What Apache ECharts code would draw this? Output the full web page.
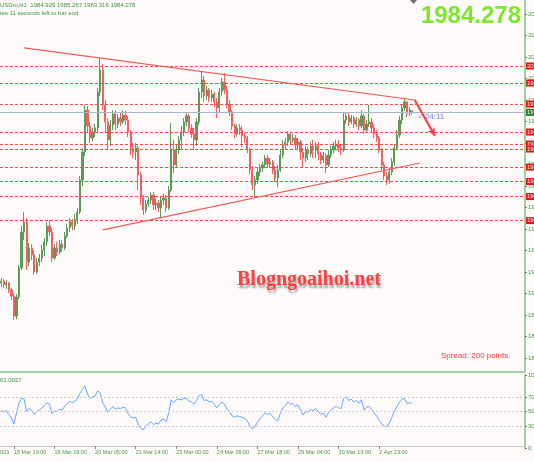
<!DOCTYPE html>
<html><head><meta charset="utf-8">
<script src="https://cdn.jsdelivr.net/npm/echarts@6/dist/echarts.min.js"></script>
<style>html,body{margin:0;padding:0;background:#fefafa;}#c{width:534px;height:462px;}</style>
</head><body><div id="c"></div>
<script>
// ---- data (2-hour candles) ----
const opens = [
1904.9,1905.8,1904.0,1904.9,1901.6,1898.8,1889.5,1898.4,1911.9,1928.6,
1933.3,1914.6,1921.2,1917.9,1910.0,1914.6,1916.5,1920.2,1924.0,1931.4,
1928.6,1916.5,1921.2,1919.3,1923.0,1921.2,1926.7,1930.5,1933.3,1931.4,
1934.2,1937.9,1952.8,1965.8,1985.3,1977.9,1972.3,1975.1,1977.0,1993.7,
2003.9,1987.7,1979.8,1971.4,1978.4,1983.5,1978.8,1981.6,1979.8,1983.0,
1980.7,1975.1,1967.7,1965.8,1967.7,1955.1,1944.4,1938.8,1941.6,1943.5,
1945.8,1941.2,1942.1,1939.8,1943.5,1944.4,1939.8,1948.1,1966.7,1959.8,
1966.7,1971.4,1975.1,1979.8,1982.6,1977.0,1974.2,1971.4,1979.8,1993.7,
1999.3,1991.9,1994.6,1990.9,1992.8,1989.1,1986.3,1993.7,1998.4,1994.6,
1988.1,1984.4,1977.9,1974.2,1977.0,1976.0,1973.3,1972.3,1966.7,1957.4,
1950.5,1952.8,1956.5,1958.4,1959.8,1963.0,1960.2,1961.2,1957.4,1953.7,
1957.4,1964.4,1969.1,1970.5,1974.2,1971.4,1972.3,1969.1,1970.5,1965.8,
1963.0,1966.7,1964.9,1968.6,1966.7,1968.6,1964.9,1962.1,1964.0,1959.8,
1964.4,1966.7,1968.6,1969.5,1967.7,1966.7,1980.7,1982.6,1979.8,1981.6,
1978.8,1980.7,1977.9,1982.6,1976.0,1978.8,1979.8,1977.0,1974.2,1972.3,
1966.7,1959.8,1954.7,1952.8,1956.5,1961.2,1967.7,1973.7,1980.7,1986.3,
1989.1,1983.9,1984.929];
const closes = [
1905.8,1904.0,1904.9,1901.6,1898.8,1889.5,1898.4,1911.9,1928.6,1933.3,
1914.6,1921.2,1917.9,1910.0,1914.6,1916.5,1920.2,1924.0,1931.4,1928.6,
1916.5,1921.2,1919.3,1923.0,1921.2,1926.7,1930.5,1933.3,1931.4,1934.2,
1937.9,1952.8,1965.8,1985.3,1977.9,1972.3,1975.1,1977.0,1993.7,2003.9,
1987.7,1979.8,1971.4,1978.4,1983.5,1978.8,1981.6,1979.8,1983.0,1980.7,
1975.1,1967.7,1965.8,1967.7,1955.1,1944.4,1938.8,1941.6,1943.5,1945.8,
1941.2,1942.1,1939.8,1943.5,1944.4,1939.8,1948.1,1966.7,1959.8,1966.7,
1971.4,1975.1,1979.8,1982.6,1977.0,1974.2,1971.4,1979.8,1993.7,1999.3,
1991.9,1994.6,1990.9,1992.8,1989.1,1986.3,1993.7,1998.4,1994.6,1988.1,
1984.4,1977.9,1974.2,1977.0,1976.0,1973.3,1972.3,1966.7,1957.4,1950.5,
1952.8,1956.5,1958.4,1959.8,1963.0,1960.2,1961.2,1957.4,1953.7,1957.4,
1964.4,1969.1,1970.5,1974.2,1971.4,1972.3,1969.1,1970.5,1965.8,1963.0,
1966.7,1964.9,1968.6,1966.7,1968.6,1964.9,1962.1,1964.0,1959.8,1964.4,
1966.7,1968.6,1969.5,1967.7,1966.7,1980.7,1982.6,1979.8,1981.6,1978.8,
1980.7,1977.9,1982.6,1976.0,1978.8,1979.8,1977.0,1974.2,1972.3,1966.7,
1959.8,1954.7,1952.8,1956.5,1961.2,1967.7,1973.7,1980.7,1986.3,1989.1,
1983.9,1985.3,1984.278];
const lows = [
1903.0,1902.6,1902.1,1900.2,1897.0,1887.7,1888.1,1897.4,1910.9,1924.9,
1910.9,1912.8,1915.6,1908.6,1909.1,1912.8,1914.6,1917.4,1922.1,1926.7,
1914.6,1915.6,1917.4,1918.4,1919.3,1920.2,1925.8,1928.6,1929.5,1929.5,
1932.3,1937.0,1950.0,1964.0,1975.1,1970.0,1970.9,1972.8,1975.1,1991.9,
1985.3,1974.6,1966.7,1968.6,1976.0,1976.0,1977.0,1977.9,1978.8,1978.4,
1972.8,1964.4,1963.0,1962.1,1948.1,1941.2,1936.5,1937.4,1940.2,1941.6,
1938.8,1938.8,1937.9,1935.1,1941.2,1937.9,1938.8,1947.2,1956.0,1958.4,
1964.9,1966.7,1973.3,1977.9,1975.1,1972.3,1966.7,1968.6,1978.4,1990.9,
1989.1,1990.0,1989.1,1989.1,1986.7,1981.6,1984.4,1991.9,1992.8,1986.3,
1982.6,1976.0,1972.3,1972.8,1973.7,1968.1,1970.0,1965.3,1955.6,1948.1,
1944.9,1950.9,1954.7,1956.5,1958.4,1958.4,1958.4,1955.6,1951.9,1949.5,
1956.5,1963.0,1966.7,1968.6,1969.5,1970.0,1966.7,1966.7,1962.1,1958.8,
1961.2,1962.1,1963.5,1963.0,1963.0,1962.1,1960.2,1960.7,1956.0,1958.8,
1963.0,1965.3,1966.7,1965.8,1964.4,1965.8,1978.8,1977.9,1978.8,1977.0,
1977.4,1976.0,1977.0,1974.2,1975.1,1977.4,1975.1,1972.3,1970.5,1965.3,
1957.4,1952.8,1950.5,1950.9,1955.1,1959.3,1966.7,1972.3,1978.8,1984.9,
1982.1,1982.6,1983.316];
const highs = [
1907.2,1906.7,1906.3,1905.3,1902.6,1899.8,1899.8,1913.3,1931.4,1937.9,
1935.1,1923.5,1923.0,1920.2,1916.5,1918.4,1922.6,1925.8,1933.3,1934.2,
1930.5,1923.0,1924.0,1924.9,1924.9,1928.6,1932.3,1935.1,1934.7,1937.0,
1939.8,1954.7,1967.7,1987.7,1987.2,1979.8,1977.0,1978.8,1995.6,2009.5,
2006.7,1990.0,1981.6,1980.7,1985.3,1985.3,1983.5,1983.9,1985.3,1984.9,
1982.6,1976.0,1970.0,1970.0,1968.6,1956.5,1945.8,1943.5,1944.9,1947.2,
1947.2,1944.0,1943.5,1945.3,1946.3,1945.8,1950.0,1979.3,1971.4,1969.1,
1973.3,1977.9,1981.6,1984.4,1983.5,1978.8,1977.0,1981.6,1995.6,2003.0,
2001.2,1996.5,1995.6,1994.6,1993.7,1990.9,1995.6,2000.2,2002.6,1996.5,
1990.0,1985.3,1978.8,1978.8,1978.8,1977.9,1974.6,1973.3,1967.7,1959.3,
1954.7,1958.4,1960.2,1961.2,1964.4,1964.4,1963.0,1962.1,1959.3,1959.8,
1966.7,1971.4,1972.3,1975.6,1975.1,1974.2,1973.7,1972.3,1971.4,1967.7,
1968.6,1968.1,1970.5,1971.4,1970.5,1970.5,1965.8,1965.8,1965.3,1966.7,
1968.6,1970.5,1971.4,1971.4,1969.1,1983.9,1983.9,1983.9,1983.0,1982.6,
1982.1,1981.6,1985.3,1983.5,1980.7,1987.7,1981.6,1978.8,1976.0,1973.3,
1967.7,1961.2,1956.5,1958.4,1963.0,1969.5,1976.0,1982.6,1988.1,1990.5,
1989.5,1986.7,1985.267];
const rsi = [
51,50,51,46,41,33,48,62,68,67,
50,54,51,46,50,52,55,58,62,60,
47,51,50,53,52,57,61,64,62,64,
67,75,80,85,74,68,70,71,78,76,
62,56,49,53,57,53,55,54,56,55,
47,43,41,42,33,27,25,30,33,36,
32,34,33,38,40,36,48,66,62,66,
67,66,68,68,64,63,60,65,72,73,
65,66,63,64,60,55,60,63,60,53,
50,44,42,44,43,42,41,37,30,26,
29,35,40,44,48,46,47,43,39,37,
47,55,58,63,60,61,57,59,52,45,
50,49,53,51,54,50,46,48,42,48,
52,55,57,55,54,68,70,65,67,63,
65,61,66,52,56,57,53,48,44,38,
33,30,29,34,42,50,57,63,67,68,
61,62,61.0027];
const levels = [2005.8, 1997.9, 1988.1, 1975.1, 1969.5, 1967.2, 1958.8, 1952.1, 1945.1, 1933.9];
const lastPrice = 1984.278;
const priceTicks = [1870,1880,1890,1900,1910,1920,1930,1940,1950,1960,1970,1980,1990,2000,2010,2020,2030];
const rsiTicks = [0,30,50,70,100];
const rsiLevels = [70,50,30];
const timeLabels = ['15 Mar 10:00','16 Mar 19:00','20 Mar 05:00','21 Mar 14:00','23 Mar 00:00','24 Mar 09:00','27 Mar 18:00','29 Mar 04:00','30 Mar 13:00','2 Apr 23:00'];
const timeLabelBars = [5,21,37,53,69,85,101,117,133,149];
const totalBars = 207;
const upperTrend = [[9, 2014.2], [163, 1990.0]];
const lowerTrend = [[40, 1929.6], [165, 1960.7]];
const arrowLine = [[163, 1990.0], [171, 1973.3]];

// ---- chart ----
const chart = echarts.init(document.getElementById('c'), null, {renderer: 'canvas'});
const cats = Array.from({length: totalBars}, (_, i) => String(i));
const candleData = opens.map((o, i) => [o, closes[i], lows[i], highs[i]]);
const labelAt = {};
timeLabelBars.forEach((b, k) => { labelAt[b] = timeLabels[k]; });
const G = '#4a9a4a';
const AX = '#a3d0a3';
const RED = '#ff4a4a';

const levelLines = levels.map(v => ({
  yAxis: v,
  lineStyle: {color: RED, type: [3, 2], width: 1},
  label: {show: true, position: 'end', distance: 1, formatter: p => p.value.toFixed(2),
    color: '#fff', backgroundColor: '#f01010', fontSize: 6, padding: [1, 1, 0, 1]}
}));
levelLines.push({
  yAxis: lastPrice,
  lineStyle: {color: '#a9b8c9', type: 'solid', width: 1},
  label: {show: true, position: 'end', distance: 1, formatter: () => lastPrice.toFixed(2),
    color: '#fff', backgroundColor: '#1d7d1d', fontSize: 6, padding: [1, 1, 0, 1]}
});
const trendStyle = {color: '#f25858', width: 1.2, type: 'solid'};
levelLines.push([{coord: upperTrend[0], lineStyle: trendStyle, label: {show: false}}, {coord: upperTrend[1]}]);
levelLines.push([{coord: lowerTrend[0], lineStyle: trendStyle, label: {show: false}}, {coord: lowerTrend[1]}]);
levelLines.push([{coord: arrowLine[0], lineStyle: {color: '#f04848', width: 2.2, type: 'solid'}, label: {show: false}},
                 {coord: arrowLine[1], symbol: 'arrow', symbolSize: [6, 8]}]);

const option = {
  animation: false,
  backgroundColor: '#fefafa',
  grid: [
    {left: 0, right: 9, top: 0, height: 372, outerBoundsMode: 'none', containLabel: false},
    {left: 0, right: 9, top: 375, height: 73, outerBoundsMode: 'none', containLabel: false}
  ],
  xAxis: [
    {type: 'category', gridIndex: 0, data: cats, boundaryGap: true,
     axisLine: {show: true, lineStyle: {color: AX, width: 2}}, axisTick: {show: false}, axisLabel: {show: false}, splitLine: {show: false}},
    {type: 'category', gridIndex: 1, data: cats, boundaryGap: true, offset: -2,
     axisLine: {show: true, lineStyle: {color: '#c9c9c9', width: 1}},
     axisTick: {show: true, alignWithLabel: true, length: 3, interval: i => labelAt[i] !== undefined, lineStyle: {color: '#8a8a8a'}},
     axisLabel: {show: true, interval: i => labelAt[i] !== undefined, formatter: (v, i) => labelAt[i] || '',
       align: 'left', fontSize: 5.5, color: G, margin: 3, fontFamily: 'Liberation Sans'},
     splitLine: {show: false}}
  ],
  yAxis: [
    {type: 'value', gridIndex: 0, position: 'right', min: 1863.5, max: 2036.5, scale: true,
     splitLine: {show: false},
     axisLine: {show: true, lineStyle: {color: AX, width: 2}},
     axisTick: {show: true, customValues: priceTicks, length: 2, lineStyle: {color: G}},
     axisLabel: {show: true, customValues: priceTicks, formatter: v => v.toFixed(2), fontSize: 6, color: G, margin: 3, fontFamily: 'Liberation Sans'}},
    {type: 'value', gridIndex: 1, position: 'right', min: 0, max: 100,
     splitLine: {show: false},
     axisLine: {show: true, lineStyle: {color: AX, width: 2}},
     axisTick: {show: true, customValues: rsiTicks, length: 2, lineStyle: {color: G}},
     axisLabel: {show: true, customValues: rsiTicks, fontSize: 6, color: G, margin: 3, fontFamily: 'Liberation Sans'}}
  ],
  series: [
    {type: 'candlestick', xAxisIndex: 0, yAxisIndex: 0, data: candleData, barWidth: 1.7,
     itemStyle: {color: '#5a9c5a', color0: '#f25f5f', borderColor: '#5a9c5a', borderColor0: '#f25f5f', borderWidth: 1},
     markLine: {silent: true, symbol: ['none', 'none'], animation: false, data: levelLines}},
    {type: 'line', xAxisIndex: 1, yAxisIndex: 1, data: rsi, symbol: 'none', silent: true,
     lineStyle: {color: '#66a8ff', width: 1},
     markLine: {silent: true, symbol: ['none', 'none'], label: {show: false},
       lineStyle: {color: '#cfcfcf', type: [2, 2], width: 1},
       data: rsiLevels.map(v => ({yAxis: v}))}}
  ],
  graphic: [
    {type: 'text', left: 0, top: 2, silent: true,
     style: {text: 'USDm,H1  1984.929 1985.267 1983.316 1984.278', fill: '#3f953f', font: '6px "Liberation Sans"'}},
    {type: 'text', left: 0, top: 10.5, silent: true,
     style: {text: 'tes 11 seconds left to bar end', fill: '#3f953f', font: '6px "Liberation Sans"'}},
    {type: 'text', right: 13, top: 4, silent: true,
     style: {text: '1984.278', fill: '#7fe62a', font: 'bold 24px "Liberation Sans"'}},
    {type: 'text', left: 237, top: 270, silent: true,
     style: {text: 'Blogngoaihoi.net', fill: '#ff4040', font: 'bold 20px "Liberation Serif"',
       textShadowColor: 'rgba(60,60,60,0.45)', textShadowBlur: 2, textShadowOffsetX: 1, textShadowOffsetY: 3}},
    {type: 'text', left: 441, top: 352, silent: true,
     style: {text: 'Spread: 200 points.', fill: '#ff3c3c', font: '8px "Liberation Sans"'}},
    {type: 'text', left: 418, top: 113, silent: true,
     style: {text: '< 24:11', fill: '#6a7de0', font: '8px "Liberation Sans"'}},
    {type: 'text', left: 0, top: 377, silent: true,
     style: {text: '61.0027', fill: '#3f953f', font: '6px "Liberation Sans"'}},
    {type: 'text', left: 0, top: 449, silent: true,
     style: {text: '023', fill: G, font: '5.5px "Liberation Sans"'}},
    {type: 'polygon', silent: true, shape: {points: [[410, 0], [417, 0], [413.5, 4]]}, style: {fill: '#707070'}}
  ]
};
chart.setOption(option);
</script>
</body></html>
